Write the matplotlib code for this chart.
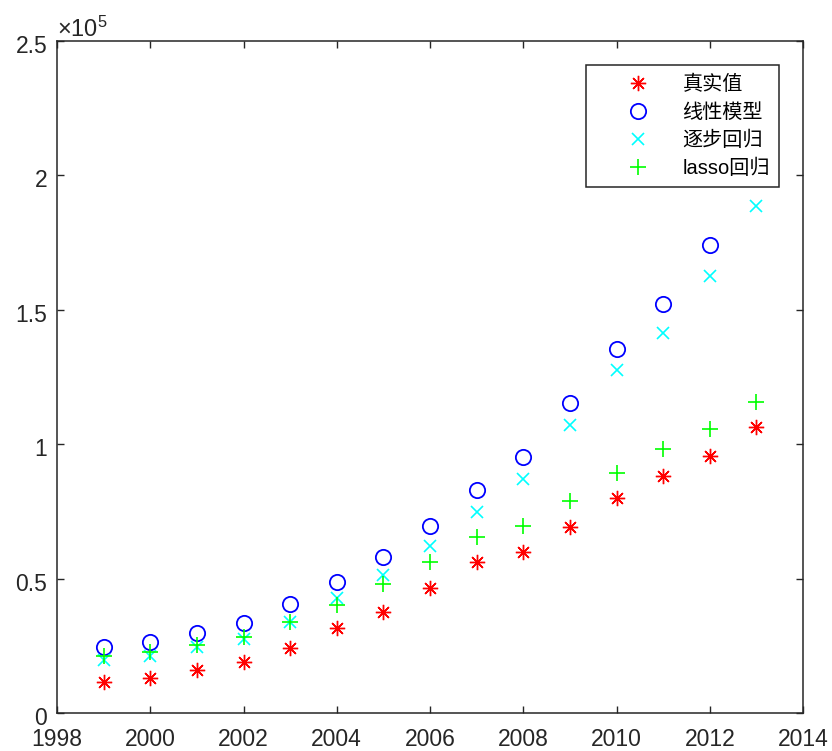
import matplotlib
matplotlib.use("Agg")
import matplotlib.pyplot as plt
from matplotlib.ticker import FuncFormatter, MultipleLocator
from matplotlib.transforms import ScaledTranslation

plt.rcParams['font.family'] = ['Liberation Sans', 'Noto Sans CJK SC', 'DejaVu Sans']
plt.rcParams['mathtext.fontset'] = 'custom'
plt.rcParams['mathtext.rm'] = 'Liberation Sans'
plt.rcParams['mathtext.it'] = 'Liberation Sans'

years = [1999, 2000, 2001, 2002, 2003, 2004, 2005, 2006, 2007, 2008, 2009, 2010, 2011, 2012, 2013]
actual = [11640, 12900, 16000, 19100, 24100, 31500, 37700, 46400, 56100, 60000, 69100, 80100, 88200, 95600, 106500]
linear = [24700, 26500, 29600, 33400, 40400, 48900, 58100, 69600, 83000, 95100, 115300, 135300, 152300, 174000, 201000]
stepwise = [19700, 21300, 24400, 27400, 34000, 42700, 51300, 62200, 74900, 87100, 107100, 127500, 141300, 162700, 188600]
lasso = [21200, 22800, 25300, 28400, 34000, 40200, 47900, 56300, 65600, 69700, 79000, 89200, 98300, 105500, 115800]
labels = ['真实值', '线性模型', '逐步回归', 'lasso回归']

fig = plt.figure(figsize=(8.32, 7.51), dpi=100)
ax = fig.add_axes([57/832, 38/751, 746/832, 672/751])

star = (8, 2, 0)
ax.plot(years, actual, linestyle='none', marker=star, markersize=11, markeredgewidth=1.0,
        color=(1, 0, 0), label=labels[0], zorder=3)
ax.plot(years, linear, linestyle='none', marker='o', markersize=11, markeredgewidth=1.3,
        markerfacecolor='none', color=(0, 0, 1), label=labels[1], zorder=3)
ax.plot(years, stepwise, linestyle='none', marker='x', markersize=8, markeredgewidth=1.2,
        color=(0, 1, 1), label=labels[2], zorder=3)
ax.plot(years, lasso, linestyle='none', marker='+', markersize=11, markeredgewidth=1.2,
        color=(0, 1, 0), label=labels[3], zorder=3)

ax.set_xlim(1998, 2014)
ax.set_ylim(0, 250000)
ax.xaxis.set_major_locator(MultipleLocator(2))
ax.yaxis.set_major_locator(MultipleLocator(50000))
ax.yaxis.set_major_formatter(FuncFormatter(lambda v, p: f"{v/1e5:g}"))

edge = (0.15, 0.15, 0.15)
for s in ax.spines.values():
    s.set_color(edge)
    s.set_linewidth(1.1)
ax.tick_params(direction='in', length=5, width=1.0, color=edge, labelcolor=(0.15, 0.15, 0.15),
               labelsize=16.5, top=True, right=True)
ax.tick_params(axis='x', pad=11)
ax.tick_params(axis='y', pad=7)
off = ScaledTranslation(0, -3/100, fig.dpi_scale_trans)
for lab in ax.get_yticklabels():
    lab.set_transform(lab.get_transform() + off)

ax.text(0.0, 0.998, r'$\times10^{5}$', transform=ax.transAxes, fontsize=17,
        color=(0.15, 0.15, 0.15), ha='left', va='bottom')

leg = ax.legend(loc='upper right', bbox_to_anchor=(0.968, 0.964),
                frameon=True, fancybox=False, framealpha=1, edgecolor=edge,
                handlelength=4.3, handletextpad=0.05, labelspacing=0.45,
                borderpad=0.45, borderaxespad=0,
                prop={'family': ['Liberation Sans', 'Noto Sans CJK SC'], 'size': 14.5})
leg.get_frame().set_linewidth(1.1)
leg.set_zorder(5)
for t in leg.get_texts():
    t.set_color('black')

fig.savefig('out.png', dpi=100, facecolor='white')
